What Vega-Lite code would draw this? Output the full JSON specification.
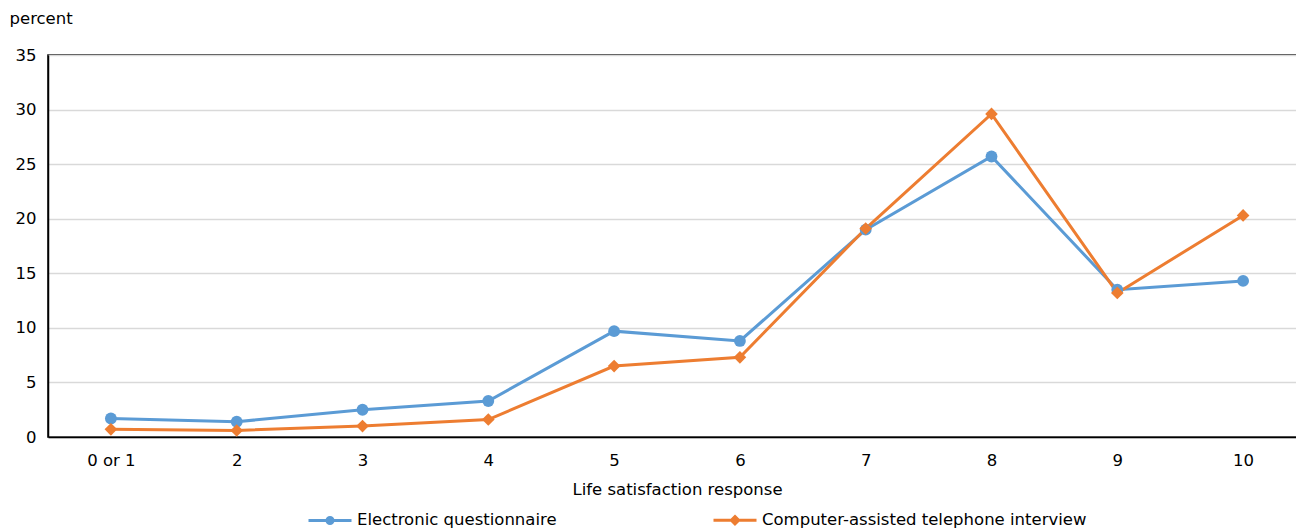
{
  "$schema": "https://vega.github.io/schema/vega-lite/v6.json",
  "autosize": "none",
  "width": 1258,
  "height": 382,
  "padding": {"left": 48, "top": 55, "right": -10, "bottom": 93},
  "background": "white",
  "config": {
    "font": "DejaVu Sans",
    "view": {"stroke": "black", "strokeWidth": 1.5},
    "axis": {"labelFont": "DejaVu Sans", "titleFont": "DejaVu Sans", "labelColor": "black", "titleColor": "black", "labelFontSize": 16.5, "titleFontSize": 16.5, "titleFontWeight": "normal"},
    "legend": {"labelFont": "DejaVu Sans", "labelFontSize": 16.5, "labelColor": "black"}
  },
  "data": {"values": [
    {"response": "0 or 1", "series": "Electronic questionnaire", "value": 1.7},
    {"response": "2", "series": "Electronic questionnaire", "value": 1.4},
    {"response": "3", "series": "Electronic questionnaire", "value": 2.5},
    {"response": "4", "series": "Electronic questionnaire", "value": 3.3},
    {"response": "5", "series": "Electronic questionnaire", "value": 9.7},
    {"response": "6", "series": "Electronic questionnaire", "value": 8.8},
    {"response": "7", "series": "Electronic questionnaire", "value": 19.0},
    {"response": "8", "series": "Electronic questionnaire", "value": 25.7},
    {"response": "9", "series": "Electronic questionnaire", "value": 13.5},
    {"response": "10", "series": "Electronic questionnaire", "value": 14.3},
    {"response": "0 or 1", "series": "Computer-assisted telephone interview", "value": 0.7},
    {"response": "2", "series": "Computer-assisted telephone interview", "value": 0.6},
    {"response": "3", "series": "Computer-assisted telephone interview", "value": 1.0},
    {"response": "4", "series": "Computer-assisted telephone interview", "value": 1.6},
    {"response": "5", "series": "Computer-assisted telephone interview", "value": 6.5},
    {"response": "6", "series": "Computer-assisted telephone interview", "value": 7.3},
    {"response": "7", "series": "Computer-assisted telephone interview", "value": 19.1},
    {"response": "8", "series": "Computer-assisted telephone interview", "value": 29.6},
    {"response": "9", "series": "Computer-assisted telephone interview", "value": 13.2},
    {"response": "10", "series": "Computer-assisted telephone interview", "value": 20.3}
  ]},
  "encoding": {
    "x": {
      "field": "response", "type": "ordinal", "sort": null,
      "scale": {"type": "point", "padding": 0.5},
      "axis": {"title": "Life satisfaction response", "labelAngle": 0, "ticks": false, "domainColor": "black", "domainWidth": 1.5, "labelPadding": 15, "titlePadding": 13, "grid": false}
    },
    "y": {
      "field": "value", "type": "quantitative",
      "scale": {"domain": [0, 35], "nice": false},
      "axis": {"title": "percent", "values": [0, 5, 10, 15, 20, 25, 30, 35], "ticks": false, "domainColor": "black", "domainWidth": 1.5, "labelPadding": 12, "gridColor": "#d9d9d9", "gridWidth": 1.5, "titleAngle": 0, "titleAlign": "left", "titleBaseline": "middle", "titleX": -39, "titleY": -37}
    },
    "color": {
      "field": "series", "type": "nominal", "sort": ["Electronic questionnaire", "Computer-assisted telephone interview"],
      "scale": {"domain": ["Electronic questionnaire", "Computer-assisted telephone interview"], "range": ["#5b9bd5", "#ed7d31"]},
      "legend": {
        "title": null, "orient": "none", "direction": "horizontal", "legendX": 259, "legendY": 442,
        "symbolSize": 1849, "symbolStrokeWidth": 3, "columnPadding": 150, "labelOffset": 4, "labelLimit": 0,
        "encode": {"symbols": {"update": {
          "shape": {"signal": "datum.value === 'Electronic questionnaire' ? 'M-1,0H1M-0.14,0A0.14,0.14 0 1,0 0.14,0A0.14,0.14 0 1,0 -0.14,0Z' : 'M-1,0H1M0,-0.17L0.17,0L0,0.17L-0.17,0Z'"},
          "fill": {"signal": "datum.value === 'Electronic questionnaire' ? '#5b9bd5' : '#ed7d31'"},
          "fillOpacity": {"value": 1}
        }}}
      }
    }
  },
  "layer": [
    {"mark": {"type": "line", "strokeWidth": 3}},
    {
      "transform": [{"filter": "datum.series === 'Electronic questionnaire'"}],
      "mark": {"type": "point", "shape": "circle", "filled": true, "opacity": 1, "size": 140}
    },
    {
      "transform": [{"filter": "datum.series === 'Computer-assisted telephone interview'"}],
      "mark": {"type": "point", "shape": "diamond", "filled": true, "opacity": 1, "size": 160}
    }
  ]
}
